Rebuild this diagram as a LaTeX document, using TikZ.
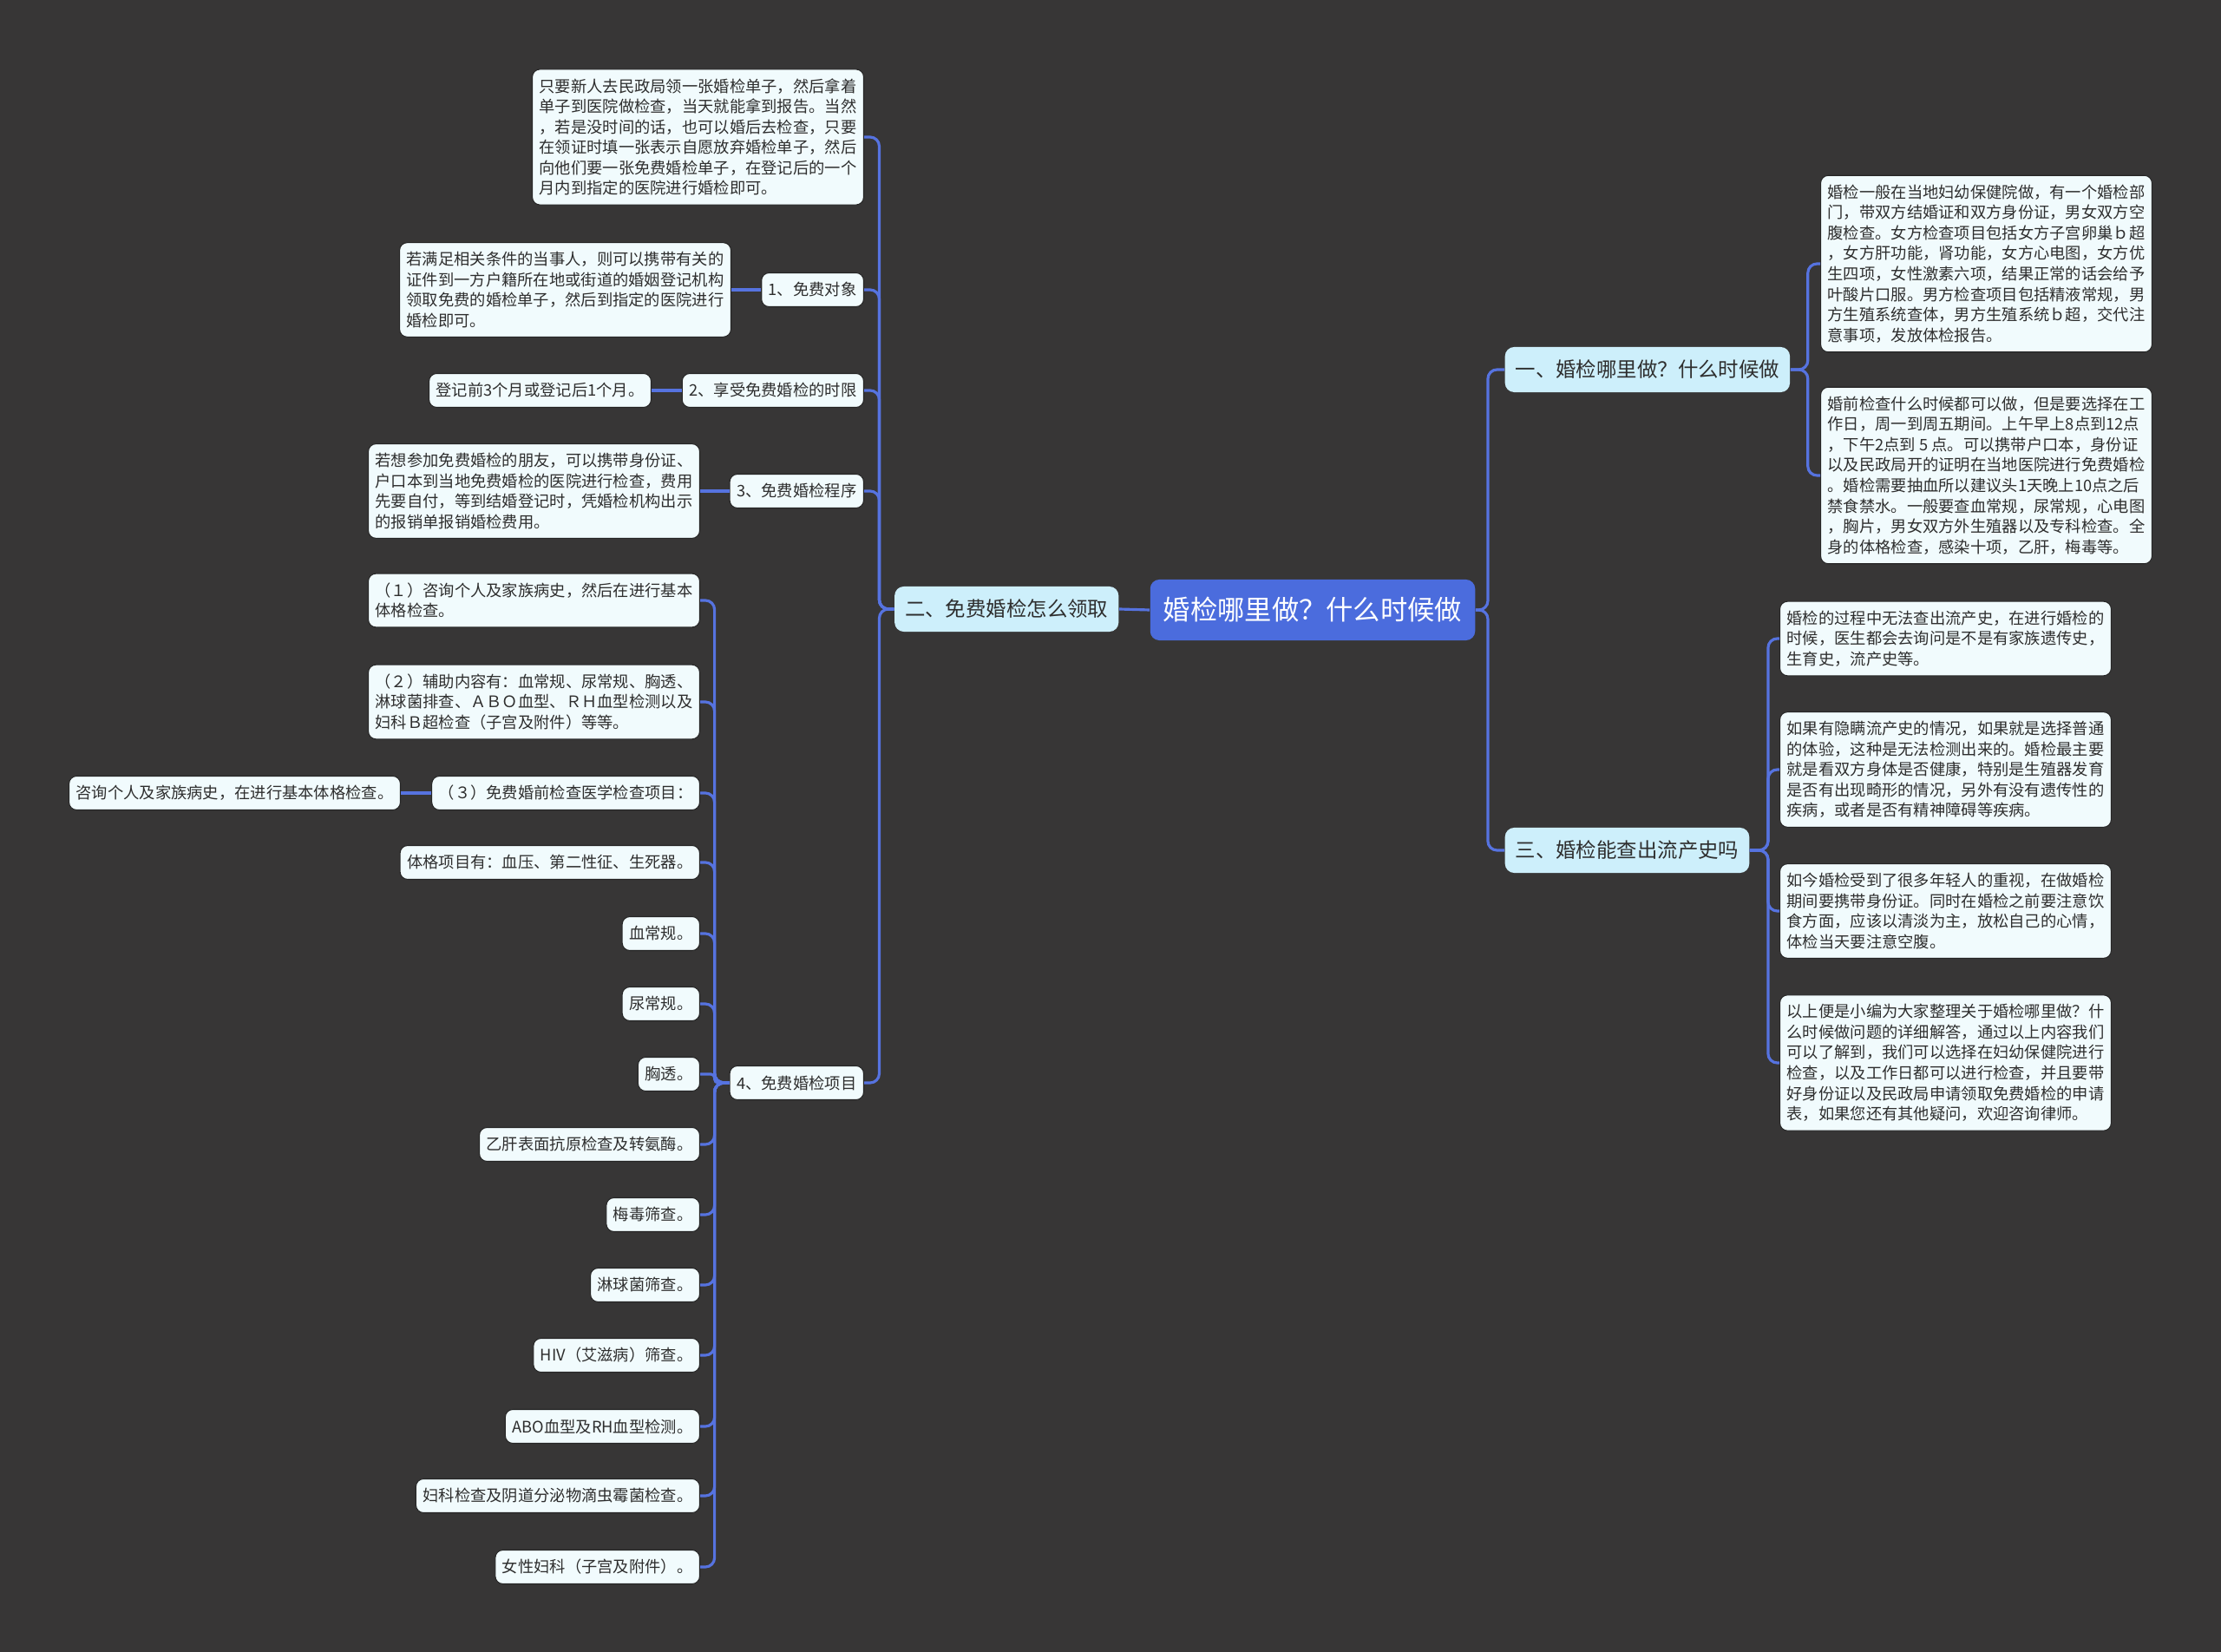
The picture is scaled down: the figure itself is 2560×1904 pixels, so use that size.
\documentclass[tikz,border=0pt]{standalone}
\usepackage{fontspec}
\setmainfont{Noto Sans CJK SC}
\definecolor{bgdark}{HTML}{373636}
\definecolor{leaffill}{HTML}{F1FBFD}
\definecolor{topicfill}{HTML}{CDEFFB}
\definecolor{rootfill}{HTML}{4B6CDD}
\definecolor{linkblue}{HTML}{5673E0}
\definecolor{inkgray}{HTML}{2E2E2E}

\tikzset{
  leafbox/.style={draw=black!85, line width=0.3pt, fill=leaffill, rounded corners=2.5pt,
    align=left, inner xsep=2.3pt, inner ysep=3pt, minimum height=0.39cm,
    font=\fontsize{5.2}{6.7}\selectfont, text=inkgray},
  topicbox/.style={fill=topicfill, rounded corners=3pt, inner xsep=3.4pt,
    minimum height=0.52cm, font=\fontsize{6.66}{8}\selectfont, text=inkgray},
  rootbox/.style={fill=rootfill, rounded corners=3pt, inner xsep=4.3pt,
    minimum height=0.70cm, font=\fontsize{8.9}{10}\selectfont, text=white},
  link/.style={draw=linkblue, line width=0.9pt, rounded corners=3pt},
}

\begin{document}
\begin{tikzpicture}[x=0.01cm,y=-0.01cm]
  \fill[bgdark] (0,0) rectangle (2560,1904);
  \useasboundingbox (0,0) rectangle (2560,1904);

  \node[rootbox] (root) at (1513,703) {婚检哪里做？什么时候做};

  % left: 二
  \node[topicbox, anchor=east] (two) at (1290,702) {二、免费婚检怎么领取};
  \node[leafbox, anchor=east] (p0) at (996,158) {只要新人去民政局领一张婚检单子，然后拿着\\单子到医院做检查，当天就能拿到报告。当然\\，若是没时间的话，也可以婚后去检查，只要\\在领证时填一张表示自愿放弃婚检单子，然后\\向他们要一张免费婚检单子，在登记后的一个\\月内到指定的医院进行婚检即可。};
  \node[leafbox, anchor=east] (s1) at (996,334) {1、免费对象};
  \node[leafbox, anchor=east] (s1a) at (843,334) {若满足相关条件的当事人，则可以携带有关的\\证件到一方户籍所在地或街道的婚姻登记机构\\领取免费的婚检单子，然后到指定的医院进行\\婚检即可。};
  \node[leafbox, anchor=east] (s2) at (996,450) {2、享受免费婚检的时限};
  \node[leafbox, anchor=east] (s2a) at (751,450) {登记前3个月或登记后1个月。};
  \node[leafbox, anchor=east] (s3) at (996,566) {3、免费婚检程序};
  \node[leafbox, anchor=east] (s3a) at (807,566) {若想参加免费婚检的朋友，可以携带身份证、\\户口本到当地免费婚检的医院进行检查，费用\\先要自付，等到结婚登记时，凭婚检机构出示\\的报销单报销婚检费用。};
  \node[leafbox, anchor=east] (s4) at (996,1248) {4、免费婚检项目};

  % items of 4
  \node[leafbox, anchor=east] (i1) at (807,692) {（１）咨询个人及家族病史，然后在进行基本\\体格检查。};
  \node[leafbox, anchor=east] (i2) at (807,809) {（２）辅助内容有：血常规、尿常规、胸透、\\淋球菌排查、ＡＢＯ血型、ＲＨ血型检测以及\\妇科Ｂ超检查（子宫及附件）等等。};
  \node[leafbox, anchor=east] (i3) at (807,914) {（３）免费婚前检查医学检查项目：};
  \node[leafbox, anchor=east] (i3a) at (462,914) {咨询个人及家族病史，在进行基本体格检查。};
  \node[leafbox, anchor=east] (i4) at (807,994) {体格项目有：血压、第二性征、生死器。};
  \node[leafbox, anchor=east] (i5) at (807,1076) {血常规。};
  \node[leafbox, anchor=east] (i6) at (807,1157) {尿常规。};
  \node[leafbox, anchor=east] (i7) at (807,1238) {胸透。};
  \node[leafbox, anchor=east] (i8) at (807,1319) {乙肝表面抗原检查及转氨酶。};
  \node[leafbox, anchor=east] (i9) at (807,1400) {梅毒筛查。};
  \node[leafbox, anchor=east] (i10) at (807,1481) {淋球菌筛查。};
  \node[leafbox, anchor=east] (i11) at (807,1562) {HIV（艾滋病）筛查。};
  \node[leafbox, anchor=east] (i12) at (807,1644) {ABO血型及RH血型检测。};
  \node[leafbox, anchor=east] (i13) at (807,1724) {妇科检查及阴道分泌物滴虫霉菌检查。};
  \node[leafbox, anchor=east] (i14) at (807,1806) {女性妇科（子宫及附件）。};

  % right: 一 and 三
  \node[topicbox, anchor=west] (r1) at (1734,426) {一、婚检哪里做？什么时候做};
  \node[leafbox, anchor=west] (r1a) at (2098,304) {婚检一般在当地妇幼保健院做，有一个婚检部\\门，带双方结婚证和双方身份证，男女双方空\\腹检查。女方检查项目包括女方子宫卵巢ｂ超\\，女方肝功能，肾功能，女方心电图，女方优\\生四项，女性激素六项，结果正常的话会给予\\叶酸片口服。男方检查项目包括精液常规，男\\方生殖系统查体，男方生殖系统ｂ超，交代注\\意事项，发放体检报告。};
  \node[leafbox, anchor=west] (r1b) at (2098,548) {婚前检查什么时候都可以做，但是要选择在工\\作日，周一到周五期间。上午早上8点到12点\\，下午2点到 5 点。可以携带户口本，身份证\\以及民政局开的证明在当地医院进行免费婚检\\。婚检需要抽血所以建议头1天晚上10点之后\\禁食禁水。一般要查血常规，尿常规，心电图\\，胸片，男女双方外生殖器以及专科检查。全\\身的体格检查，感染十项，乙肝，梅毒等。};
  \node[topicbox, anchor=west] (r3) at (1734,980) {三、婚检能查出流产史吗};
  \node[leafbox, anchor=west] (r3a) at (2051,736) {婚检的过程中无法查出流产史，在进行婚检的\\时候，医生都会去询问是不是有家族遗传史，\\生育史，流产史等。};
  \node[leafbox, anchor=west] (r3b) at (2051,887) {如果有隐瞒流产史的情况，如果就是选择普通\\的体验，这种是无法检测出来的。婚检最主要\\就是看双方身体是否健康，特别是生殖器发育\\是否有出现畸形的情况，另外有没有遗传性的\\疾病，或者是否有精神障碍等疾病。};
  \node[leafbox, anchor=west] (r3c) at (2051,1050) {如今婚检受到了很多年轻人的重视，在做婚检\\期间要携带身份证。同时在婚检之前要注意饮\\食方面，应该以清淡为主，放松自己的心情，\\体检当天要注意空腹。};
  \node[leafbox, anchor=west] (r3d) at (2051,1225) {以上便是小编为大家整理关于婚检哪里做？什\\么时候做问题的详细解答，通过以上内容我们\\可以了解到，我们可以选择在妇幼保健院进行\\检查，以及工作日都可以进行检查，并且要带\\好身份证以及民政局申请领取免费婚检的申请\\表，如果您还有其他疑问，欢迎咨询律师。};

  % links
  \draw[link] (root.west) -- (two.east);
  \foreach \n in {r1,r3} \draw[link] (root.east) -- ++(14,0) |- (\n.west);
  \foreach \n in {p0,s1,s2,s3,s4} \draw[link] (two.west) -- ++(-17,0) |- (\n.east);
  \draw[link] (s1a.east) -- (s1.west);
  \draw[link] (s2a.east) -- (s2.west);
  \draw[link] (s3a.east) -- (s3.west);
  \foreach \n in {i1,i2,i3,i4,i5,i6,i8,i9,i10,i11,i12,i13,i14}
    \draw[link] (s4.west) -- ++(-17,0) |- (\n.east);
  \draw[link, rounded corners=1.2pt] (s4.west) -- ++(-17,0) |- (i7.east);
  \draw[link] (i3a.east) -- (i3.west);
  \foreach \n in {r1a,r1b} \draw[link] (r1.east) -- ++(20,0) |- (\n.west);
  \foreach \n in {r3a,r3b,r3c,r3d} \draw[link] (r3.east) -- ++(21,0) |- (\n.west);
\end{tikzpicture}
\end{document}
